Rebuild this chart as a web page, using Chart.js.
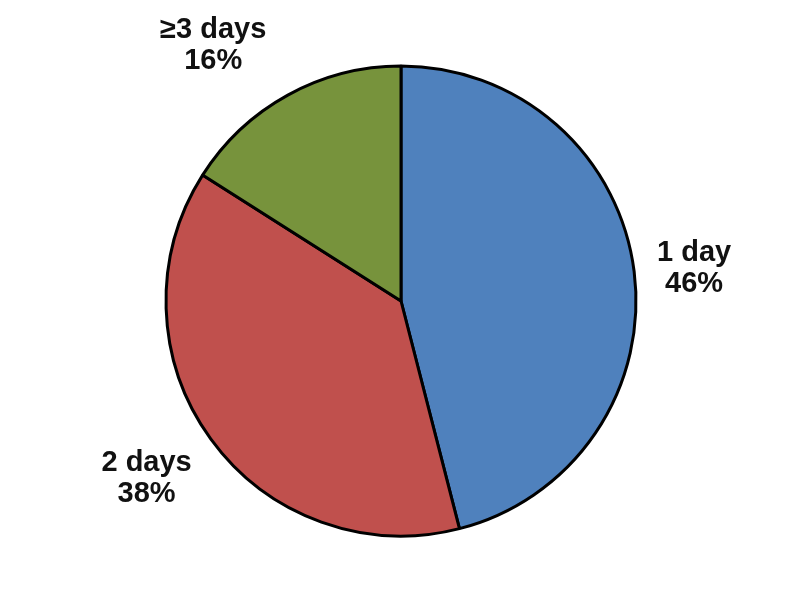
<!DOCTYPE html>
<html>
<head>
<meta charset="utf-8">
<script src="https://cdn.jsdelivr.net/npm/chart.js@4/dist/chart.umd.min.js"></script>
<style>
  html, body { margin: 0; padding: 0; background: #fff; }
  #wrap { width: 800px; height: 606px; }
</style>
</head>
<body>
<div id="wrap"><canvas id="myPieChart" width="800" height="606"></canvas></div>
<script>
"use strict";

// chart data
const categories = ['1 day', '2 days', '\u22653 days'];
const shares = [46, 38, 16];
const sliceColors = ['#4F81BD', '#C0504D', '#77933C'];

/**
 * Draws "name / percent" labels outside each slice
 */
const outsideLabels = {
    id: 'outsideLabels',
    afterDatasetsDraw(chart, args, opts) {
        const ctx = chart.ctx;
        const meta = chart.getDatasetMeta(0);
        ctx.save();
        ctx.fillStyle = '#111';
        ctx.font = 'bold 29px "Liberation Sans", Arial, sans-serif';
        ctx.textAlign = 'center';
        ctx.textBaseline = 'middle';
        meta.data.forEach((arc, i) => {
            const p = arc.getProps(['x', 'y', 'startAngle', 'endAngle', 'outerRadius'], true);
            const pos = opts.positions[i];
            const a = (p.startAngle + p.endAngle) / 2 + pos.a * Math.PI / 180;
            const d = p.outerRadius * pos.r;
            const cx = p.x + Math.cos(a) * d;
            const cy = p.y + Math.sin(a) * d;
            ctx.fillText(chart.data.labels[i], cx, cy - 15);
            ctx.fillText(chart.data.datasets[0].data[i] + '%', cx, cy + 16);
        });
        ctx.restore();
    }
};

renderChart();

function renderChart() {
    const pieCtx = document.getElementById('myPieChart');
    new Chart(pieCtx, {
        type: 'pie',
        data: {
            labels: categories,
            datasets: [{
                data: shares,
                backgroundColor: sliceColors,
                borderColor: '#000',
                borderWidth: 3
            }]
        },
        options: {
            responsive: false,
            animation: false,
            radius: 235,
            layout: { padding: { left: 2, bottom: 4 } },
            plugins: {
                legend: { display: false },
                tooltip: { enabled: false },
                outsideLabels: {
                    positions: [
                        { r: 1.255, a: 0.8 },
                        { r: 1.32, a: 1.1 },
                        { r: 1.35, a: -7.5 }
                    ]
                }
            }
        },
        plugins: [outsideLabels]
    });
}
</script>
</body>
</html>
